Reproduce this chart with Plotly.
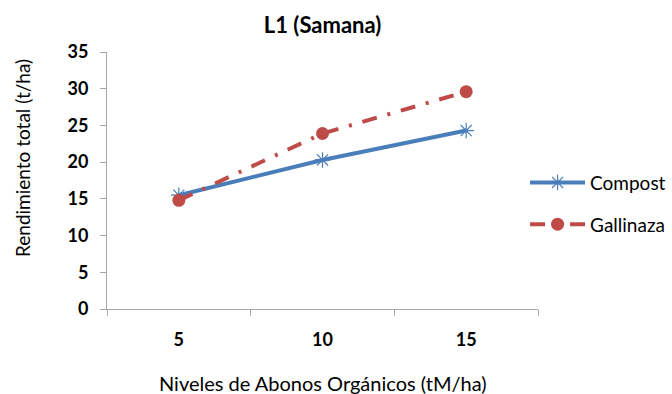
import plotly.graph_objects as go

categories = ["5", "10", "15"]
compost = [15.5, 20.3, 24.3]
gallinaza = [14.8, 23.9, 29.6]
y_ticks = [0, 5, 10, 15, 20, 25, 30, 35]

FONT = "Lato, 'Open Sans', sans-serif"

fig = go.Figure()
fig.add_trace(go.Scatter(
    x=categories, y=compost, name="Compost", mode="lines+markers",
    legendgroup="compost",
    line=dict(color="#4a7ebb", width=4),
    marker=dict(symbol="asterisk-open", size=13, color="#4a7ebb",
                line=dict(color="#4a7ebb", width=1.2)),
))
fig.add_trace(go.Scatter(
    x=categories, y=gallinaza, name="Gallinaza", mode="lines+markers",
    legendgroup="gallinaza",
    line=dict(color="#be4b48", width=4, dash="15px,11px,3px,11px"),
    marker=dict(symbol="circle", size=13, color="#be4b48"),
))

fig.update_layout(
    width=672, height=394,
    margin=dict(l=107, r=134, t=52, b=85, autoexpand=False),
    paper_bgcolor="white", plot_bgcolor="white",
    font=dict(family=FONT, color="black"),
    title=dict(text="<b>L1 (Samana)</b>", x=0.48, xanchor="center",
               y=0.937, yanchor="middle", font=dict(size=22)),
    showlegend=True,
    legend=dict(x=0.97, xanchor="left", y=0.41, yanchor="middle",
                font=dict(size=19), tracegroupgap=14, itemwidth=55,
                bgcolor="rgba(0,0,0,0)"),
    xaxis=dict(
        type="category", range=[-0.5, 2.5],
        showline=True, linecolor="#a6a6a6", linewidth=1,
        ticks="outside", tickson="boundaries", ticklen=6, tickcolor="#a6a6a6",
        showgrid=False, zeroline=False, ticklabelstandoff=14,
        tickfont=dict(size=18, family=FONT), tickprefix="<b>", ticksuffix="</b>",
    ),
    yaxis=dict(
        range=[0, 35], tickvals=y_ticks,
        ticktext=[f"<b>{v}</b>" for v in y_ticks],
        showline=True, linecolor="#a6a6a6", linewidth=1,
        ticks="outside", ticklen=6, tickcolor="#a6a6a6",
        showgrid=False, zeroline=False, ticklabelstandoff=8,
        tickfont=dict(size=18, family=FONT),
    ),
    annotations=[
        dict(text="Niveles de Abonos Orgánicos (tM/ha)", xref="paper", yref="paper",
             x=0.5, y=-0.288, xanchor="center", yanchor="middle",
             showarrow=False, font=dict(size=20)),
        dict(text="Rendimiento total (t/ha)", xref="paper", yref="paper",
             x=(22 - 107) / 431, y=(309 - 158) / 257, xanchor="center", yanchor="middle",
             textangle=-90, showarrow=False, font=dict(size=19)),
    ],
)

fig.write_html("out.html")
